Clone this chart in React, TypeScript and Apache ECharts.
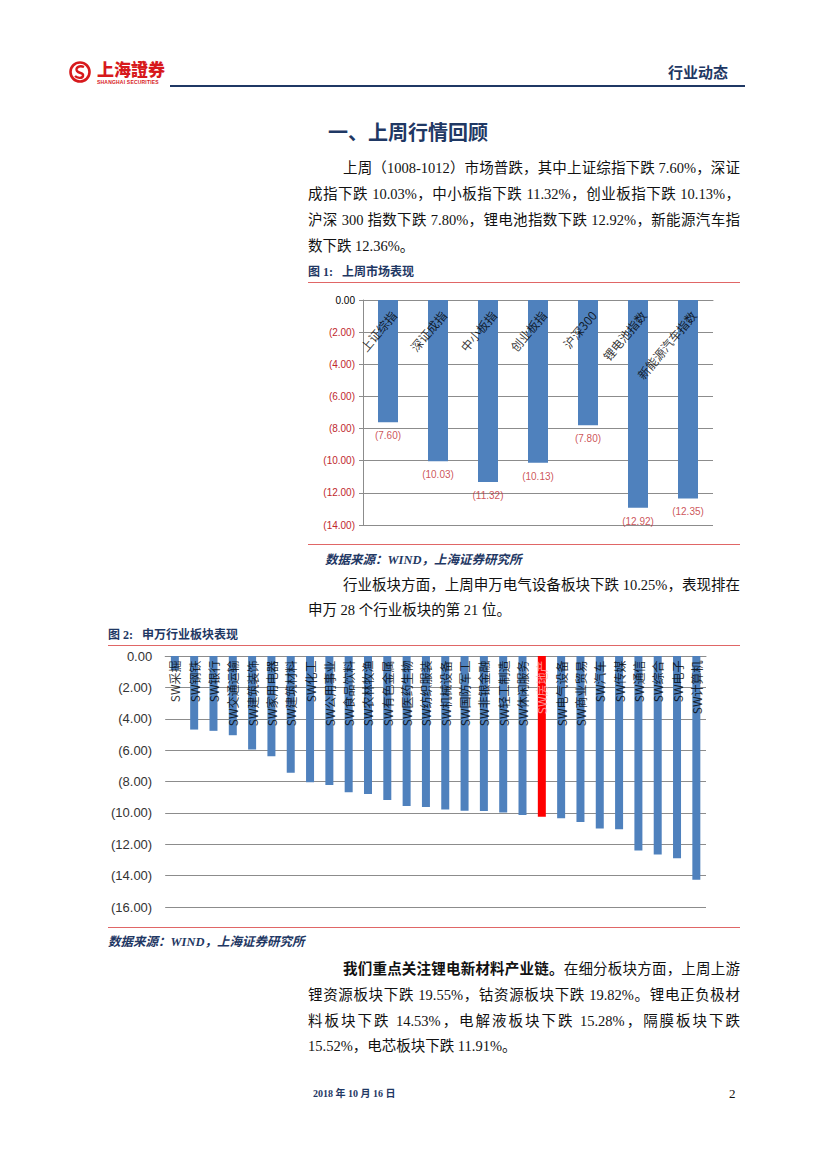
import React, { useEffect, useRef } from "react";
import * as echarts from "echarts";

// ---------- Data ----------
const marketCategories = ["上证综指", "深证成指", "中小板指", "创业板指", "沪深300", "锂电池指数", "新能源汽车指数"];
const marketValues = [-7.6, -10.03, -11.32, -10.13, -7.8, -12.92, -12.35];
const marketAxis = { min: -14, max: 0, interval: 2 };

const industryCategories = [
  "SW采掘", "SW钢铁", "SW银行", "SW交通运输", "SW建筑装饰", "SW家用电器", "SW建筑材料",
  "SW化工", "SW公用事业", "SW食品饮料", "SW农林牧渔", "SW有色金属", "SW医药生物", "SW纺织服装",
  "SW机械设备", "SW国防军工", "SW非银金融", "SW轻工制造", "SW休闲服务", "SW房地产", "SW电气设备",
  "SW商业贸易", "SW汽车", "SW传媒", "SW通信", "SW综合", "SW电子", "SW计算机",
];
const industryValues = [
  -0.9, -4.69, -4.77, -5.05, -5.96, -6.39, -7.45,
  -8.05, -8.22, -8.69, -8.8, -9.18, -9.56, -9.63,
  -9.78, -9.86, -9.88, -9.97, -10.14, -10.25, -10.35,
  -10.58, -10.99, -11.05, -12.4, -12.65, -12.9, -14.27,
];
const highlightIndex = 19;
const industryAxis = { min: -16, max: 0, interval: 2 };

// ---------- Styles ----------
const NAVY = "#1f3864";
const RED_LINE = "#e06666";
const BAR_BLUE = "#4f81bd";
const GRID = "#8c8c8c";
const BODY_FONT = '"Liberation Serif", "Noto Sans CJK SC", serif';
const CJK = '"Noto Sans CJK SC", sans-serif';
const NUM_FONT = '"Liberation Sans", "Noto Sans CJK SC", sans-serif';

const fmt = (v: number) => (Math.abs(v) < 1e-9 ? "0.00" : `(${Math.abs(v).toFixed(2)})`);

function Chart({ option, style }: { option: any; style: React.CSSProperties }) {
  const ref = useRef<HTMLDivElement>(null);
  useEffect(() => {
    const chart = echarts.init(ref.current as HTMLDivElement, undefined, { renderer: "svg" });
    chart.setOption(option);
    return () => chart.dispose();
  }, []);
  return <div ref={ref} style={style} />;
}

const marketOption = {
  animation: false,
  grid: { left: 55, right: 27, top: 17, bottom: 18 },
  xAxis: {
    type: "category",
    data: marketCategories,
    position: "top",
    axisLine: { show: true, lineStyle: { color: GRID, width: 1 } },
    axisTick: { show: false },
    axisLabel: { show: false },
  },
  yAxis: {
    type: "value",
    ...marketAxis,
    axisLine: { show: true, lineStyle: { color: GRID } },
    axisTick: { show: true, length: 4, lineStyle: { color: GRID } },
    splitLine: { show: true, lineStyle: { color: GRID, width: 1 } },
    axisLabel: {
      formatter: (v: number) => fmt(v),
      color: (v: any) => (Math.abs(Number(v)) < 1e-9 ? "#000000" : "#c0282d"),
      fontSize: 10,
      fontFamily: NUM_FONT,
      margin: 8,
    },
  },
  series: [
    {
      type: "bar",
      data: marketValues,
      barWidth: 20,
      itemStyle: { color: BAR_BLUE },
      silent: true,
    },
    {
      type: "scatter",
      data: marketValues,
      symbolSize: 1,
      itemStyle: { color: "transparent" },
      silent: true,
      label: {
        show: true,
        position: "bottom",
        distance: 8,
        formatter: (p: any) => fmt(p.value),
        color: "#c0282d",
        fontSize: 10,
        fontFamily: NUM_FONT,
      },
    },
    {
      type: "scatter",
      data: marketCategories.map(() => 0),
      symbolSize: 1,
      itemStyle: { color: "transparent" },
      silent: true,
      label: {
        show: true,
        position: [6, 13],
        rotate: 50,
        align: "right",
        verticalAlign: "middle",
        formatter: (p: any) => marketCategories[p.dataIndex],
        color: "#000",
        fontSize: 12,
        fontFamily: CJK,
      },
    },
  ],
};

const industryOption = {
  animation: false,
  grid: { left: 53, right: 34, top: 10, bottom: 19 },
  xAxis: {
    type: "category",
    data: industryCategories,
    position: "top",
    axisLine: { show: true, lineStyle: { color: GRID } },
    axisTick: { show: false },
    axisLabel: { show: false },
  },
  yAxis: {
    type: "value",
    ...industryAxis,
    axisLine: { show: false },
    axisTick: { show: false },
    splitLine: { show: true, lineStyle: { color: GRID, width: 1 } },
    axisLabel: {
      formatter: (v: number) => fmt(v),
      color: "#333333",
      fontSize: 13,
      fontFamily: NUM_FONT,
      margin: 13,
    },
  },
  series: [
    {
      type: "bar",
      data: industryValues.map((v, i) => ({
        value: v,
        itemStyle: { color: i === highlightIndex ? "#ff0000" : BAR_BLUE },
      })),
      barWidth: 8,
      silent: true,
    },
    {
      type: "scatter",
      data: industryCategories.map((_, i) => ({
        value: 0,
        label: { color: i === highlightIndex ? "#ffb3b3" : "#000000" },
      })),
      symbolSize: 1,
      itemStyle: { color: "transparent" },
      silent: true,
      label: {
        show: true,
        position: [0.5, 5],
        rotate: 90,
        align: "right",
        verticalAlign: "middle",
        formatter: (p: any) => industryCategories[p.dataIndex],
        fontSize: 12,
        fontFamily: CJK,
      },
    },
  ],
};

const abs = (left: number, top: number, extra: React.CSSProperties = {}): React.CSSProperties => ({
  position: "absolute",
  left,
  top,
  ...extra,
});

function Line({ x, y, text, justify, bold }: { x: number; y: number; text: React.ReactNode; justify?: boolean; bold?: boolean }) {
  return (
    <div
      style={abs(x, y - 13, {
        width: 740 - x,
        height: 26,
        lineHeight: "26px",
        fontSize: 14.5,
        color: "#111",
        fontFamily: BODY_FONT,
        textAlign: justify ? "justify" : "left",
        textAlignLast: justify ? "justify" : "left",
        fontWeight: bold ? 700 : 400,
        whiteSpace: "nowrap",
      } as any)}
    >
      {text}
    </div>
  );
}

function Hr({ x1, x2, y, color, h = 1 }: { x1: number; x2: number; y: number; color: string; h?: number }) {
  return <div style={abs(x1, y, { width: x2 - x1, height: h, background: color })} />;
}

function Caption({ x, y, text }: { x: number; y: number; text: string }) {
  return (
    <div style={abs(x, y - 8, { fontSize: 12, lineHeight: "16px", fontWeight: 700, color: NAVY, fontFamily: BODY_FONT, whiteSpace: "pre" })}>
      {text}
    </div>
  );
}

function Source({ x, y }: { x: number; y: number }) {
  return (
    <div
      style={abs(x, y - 8, {
        fontSize: 12.5,
        lineHeight: "16px",
        fontWeight: 700,
        fontStyle: "italic",
        color: NAVY,
        fontFamily: BODY_FONT,
        whiteSpace: "pre",
      })}
    >
      数据来源：WIND，上海证券研究所
    </div>
  );
}

export default function App() {
  return (
    <div style={abs(0, 0, { width: 827, height: 1169, background: "#fff", overflow: "hidden" })}>
      {/* Header */}
      <svg style={abs(68, 60)} width={26} height={26} viewBox="0 0 26 26">
        <circle cx={12} cy={12} r={9.5} fill="none" stroke="#d7191c" strokeWidth={2.6} />
        <path d="M16 7 C11 5 7 8 9 11 C11 14 16 12 15 16 C14 19 9 18 7 16" fill="none" stroke="#d7191c" strokeWidth={2.4} />
      </svg>
      <div style={abs(97, 59, { fontSize: 17, lineHeight: "20px", fontWeight: 900, color: "#d7191c", fontFamily: CJK, letterSpacing: 0 })}>
        上海證券
      </div>
      <div style={abs(97, 79, { fontSize: 5, lineHeight: "6px", fontWeight: 700, color: "#d7191c", fontFamily: NUM_FONT, letterSpacing: 0.2 })}>
        SHANGHAI SECURITIES
      </div>
      <Hr x1={170} x2={745} y={85} color={NAVY} h={2} />
      <div style={abs(668, 62, { fontSize: 15, lineHeight: "20px", fontWeight: 700, color: NAVY, fontFamily: CJK })}>行业动态</div>

      {/* Section title */}
      <div style={abs(328, 120, { fontSize: 20, lineHeight: "24px", fontWeight: 700, color: NAVY, fontFamily: CJK })}>
        一、上周行情回顾
      </div>

      <Line x={343} y={168} justify text="上周（1008-1012）市场普跌，其中上证综指下跌 7.60%，深证" />
      <Line x={308} y={194} justify text="成指下跌 10.03%，中小板指下跌 11.32%，创业板指下跌 10.13%，" />
      <Line x={308} y={220} justify text="沪深 300 指数下跌 7.80%，锂电池指数下跌 12.92%，新能源汽车指" />
      <Line x={308} y={246} text="数下跌 12.36%。" />

      <Caption x={308} y={272} text={"图 1:   上周市场表现"} />
      <Hr x1={308} x2={740} y={282} color={RED_LINE} />
      <Chart option={marketOption} style={abs(308, 283, { width: 432, height: 260 })} />
      <Hr x1={308} x2={740} y={544} color={RED_LINE} />
      <Source x={325} y={560} />

      <Line x={343} y={585} justify text="行业板块方面，上周申万电气设备板块下跌 10.25%，表现排在" />
      <Line x={308} y={610} text="申万 28 个行业板块的第 21 位。" />

      <Caption x={108} y={635} text={"图 2:   申万行业板块表现"} />
      <Hr x1={108} x2={740} y={645} color={RED_LINE} />
      <Chart option={industryOption} style={abs(108, 646, { width: 632, height: 280 })} />
      <Hr x1={108} x2={740} y={927} color={RED_LINE} />
      <Source x={108} y={942} />

      <Line
        x={343}
        y={969}
        justify
        text={
          <>
            <b>我们重点关注锂电新材料产业链。</b>在细分板块方面，上周上游
          </>
        }
      />
      <Line x={308} y={995} justify text="锂资源板块下跌 19.55%，钴资源板块下跌 19.82%。锂电正负极材" />
      <Line x={308} y={1021} justify text="料板块下跌 14.53%，电解液板块下跌 15.28%，隔膜板块下跌" />
      <Line x={308} y={1046} text="15.52%，电芯板块下跌 11.91%。" />

      {/* Footer */}
      <div style={abs(313, 1087, { fontSize: 10, lineHeight: "14px", fontWeight: 700, color: NAVY, fontFamily: BODY_FONT, whiteSpace: "pre" })}>
        2018 年 10 月 16 日
      </div>
      <div style={abs(729, 1086, { fontSize: 13, lineHeight: "16px", color: "#111", fontFamily: BODY_FONT })}>2</div>
    </div>
  );
}
